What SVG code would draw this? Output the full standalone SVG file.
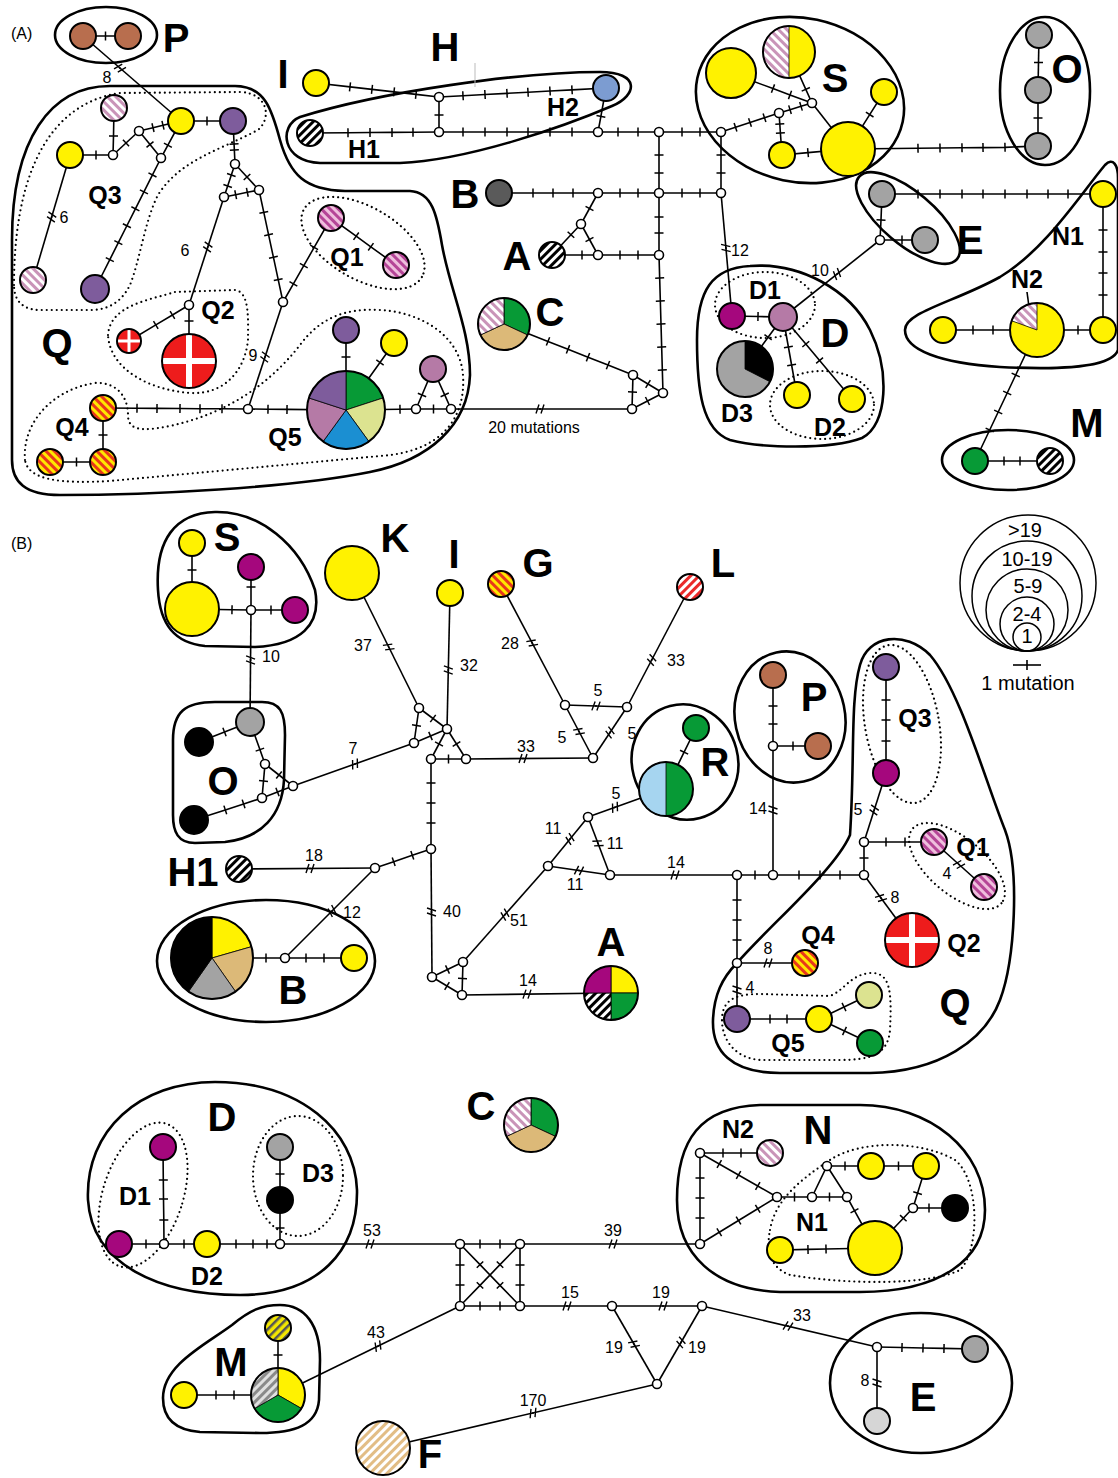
<svg xmlns="http://www.w3.org/2000/svg" width="1118" height="1478" viewBox="0 0 1118 1478">
<defs>
<style>
.e{fill:none;stroke:#000;stroke-width:1.6}
.t{marker-mid:url(#tk)}
.b{fill:none;stroke:#000;stroke-width:1.6;marker-mid:url(#bk)}
.n{stroke:#000;stroke-width:2}
.f{fill:none;stroke:#000;stroke-width:2}
.w{stroke:#000;stroke-width:0.8}
.v{fill:#fff;stroke:#000;stroke-width:1.6}
.o{fill:none;stroke:#000;stroke-width:2.6}
.d{fill:none;stroke:#000;stroke-width:2.2;stroke-dasharray:0 5;stroke-linecap:round}
.L{font-family:"Liberation Sans",Arial,sans-serif;font-weight:bold;font-size:40px;text-anchor:middle}
.M{font-family:"Liberation Sans",Arial,sans-serif;font-weight:bold;font-size:25px;text-anchor:middle}
.s{font-family:"Liberation Sans",Arial,sans-serif;font-size:16px;text-anchor:middle}
.g{font-family:"Liberation Sans",Arial,sans-serif;font-size:20px;text-anchor:middle}
.Y{fill:#fff200}.Br{fill:#b86e4e}.Pu{fill:#7e5c9c}.Mv{fill:#b57aa6}.Mg{fill:#a5077d}.Gy{fill:#a3a3a3}.Gr{fill:#079a36}.Bk{fill:#000}
</style>
<marker id="tk" viewBox="-6 -6 12 12" markerWidth="12" markerHeight="12" markerUnits="userSpaceOnUse" orient="auto"><path d="M0,-4.5V4.5" stroke="#000" stroke-width="1.5"/></marker>
<marker id="bk" viewBox="-7 -7 14 14" markerWidth="14" markerHeight="14" markerUnits="userSpaceOnUse" orient="auto"><path d="M-4,4.5L-1,-4.5M1,4.5L4,-4.5" stroke="#000" stroke-width="1.4" fill="none"/></marker>
<pattern id="pk" patternUnits="userSpaceOnUse" width="6" height="6" patternTransform="rotate(-45)"><rect width="6" height="6" fill="#fff"/><rect width="3" height="6" fill="#c994b8"/></pattern>
<pattern id="q1" patternUnits="userSpaceOnUse" width="6" height="6" patternTransform="rotate(-45)"><rect width="6" height="6" fill="#efbfdd"/><rect width="3" height="6" fill="#b54597"/></pattern>
<pattern id="bw" patternUnits="userSpaceOnUse" width="6" height="6" patternTransform="rotate(45)"><rect width="6" height="6" fill="#fff"/><rect width="3" height="6" fill="#000"/></pattern>
<pattern id="oy" patternUnits="userSpaceOnUse" width="6" height="6" patternTransform="rotate(-45)"><rect width="6" height="6" fill="#ffe800"/><rect width="3" height="6" fill="#e8381a"/></pattern>
<pattern id="rw" patternUnits="userSpaceOnUse" width="6" height="6" patternTransform="rotate(45)"><rect width="6" height="6" fill="#fff"/><rect width="3" height="6" fill="#ea2a2a"/></pattern>
<pattern id="tn" patternUnits="userSpaceOnUse" width="6" height="6" patternTransform="rotate(45)"><rect width="6" height="6" fill="#fff"/><rect width="3" height="6" fill="#e2bd85"/></pattern>
<pattern id="yk" patternUnits="userSpaceOnUse" width="6" height="6" patternTransform="rotate(45)"><rect width="6" height="6" fill="#f3e600"/><rect width="2.5" height="6" fill="#555"/></pattern>
<pattern id="gs" patternUnits="userSpaceOnUse" width="6" height="6" patternTransform="rotate(45)"><rect width="6" height="6" fill="#e0e0e0"/><rect width="3" height="6" fill="#8a8a8a"/></pattern>
</defs>
<rect width="1118" height="1478" fill="#fff"/>

<g id="hulls">
<ellipse class="o" cx="106" cy="35" rx="51" ry="28"/>
<path class="o" d="M12,240 C12,140 50,86 110,86 L235,86 C265,86 272,110 280,140 C290,175 305,190 345,191 L410,191 C432,192 437,215 442,245 C450,290 470,330 470,375 C468,425 430,460 370,472 C290,488 150,495 60,495 C25,495 12,482 12,460 Z"/>
<path class="o" d="M300,117 C380,92 520,72 600,72 C640,72 638,95 612,106 C565,126 470,160 400,163 L320,163 C282,162 278,126 300,117 Z"/>
<ellipse class="o" cx="800" cy="100" rx="105" ry="82" transform="rotate(12 800 100)"/>
<ellipse class="o" cx="1045" cy="91" rx="45" ry="74"/>
<ellipse class="o" cx="908" cy="218" rx="64" ry="26" transform="rotate(40 908 218)"/>
<path class="o" d="M905,330 C905,312 955,302 1000,277 C1045,250 1080,195 1105,165 C1113,157 1118,165 1118,178 L1118,350 C1112,368 1060,370 1000,367 C940,363 905,350 905,330 Z"/>
<path class="o" d="M750,266 C800,262 850,290 870,330 C890,370 888,425 862,438 C830,450 760,448 730,440 C702,430 697,390 697,340 C697,290 712,268 750,266 Z"/>
<ellipse class="o" cx="1008" cy="460" rx="66" ry="30"/>
<path class="d" d="M14,285 C14,190 40,105 120,93 L240,92 C268,93 272,118 258,130 C220,150 180,160 158,195 C145,220 140,260 130,285 C120,305 105,310 90,310 L40,310 C22,310 14,300 14,285 Z"/>
<ellipse class="d" cx="363" cy="243" rx="68" ry="36" transform="rotate(30 363 243)"/>
<path class="d" d="M108,335 C110,305 150,300 175,292 L235,290 C250,292 248,320 248,340 C245,370 225,395 190,393 C150,390 110,370 108,335 Z"/>
<path class="d" d="M25,460 C22,425 50,390 95,383 C118,382 128,398 128,415 C128,430 140,432 170,426 C220,415 265,390 300,345 C320,318 345,308 380,310 C420,312 460,335 463,375 C466,420 440,452 380,456 L110,481 C60,484 28,480 25,460 Z"/>
<ellipse class="d" cx="765" cy="305" rx="50" ry="33"/>
<ellipse class="d" cx="822" cy="405" rx="52" ry="34"/>

<path class="o" d="M158,590 C155,540 175,513 215,512 C260,511 300,545 315,590 C322,625 300,645 255,647 L205,646 C175,643 160,625 158,590 Z"/>
<path class="o" d="M173,740 C173,712 185,702 215,702 L262,702 C280,702 285,712 285,735 L284,780 C282,815 262,838 225,842 L195,843 C178,843 173,832 173,815 Z"/>
<ellipse class="o" cx="685" cy="762" rx="53" ry="58" transform="rotate(-15 685 762)"/>
<ellipse class="o" cx="790" cy="717" rx="55" ry="66" transform="rotate(-12 790 717)"/>
<path class="o" d="M850,835 C855,760 850,700 860,665 C868,635 905,630 930,655 C960,690 985,780 1005,830 C1020,870 1015,960 1000,1000 C985,1040 940,1072 870,1073 L780,1073 C730,1073 712,1050 713,1020 C714,995 722,978 737,963 C770,925 835,870 850,835 Z"/>
<ellipse class="o" cx="266" cy="961" rx="109" ry="61"/>
<path class="o" d="M88,1200 C85,1130 140,1082 215,1082 C300,1082 355,1130 357,1190 C358,1250 320,1295 240,1295 C160,1295 92,1265 88,1200 Z"/>
<path class="o" d="M163,1398 C163,1365 205,1345 232,1325 C250,1310 262,1305 280,1305 C305,1305 320,1325 320,1360 L319,1400 C317,1425 295,1433 260,1433 L200,1432 C175,1430 163,1418 163,1398 Z"/>
<path class="o" d="M677,1200 C677,1140 700,1107 760,1105 L860,1105 C930,1105 985,1150 985,1210 C985,1260 940,1292 860,1292 L780,1292 C715,1290 677,1255 677,1200 Z"/>
<ellipse class="o" cx="921" cy="1383" rx="91" ry="70"/>
<ellipse class="d" cx="902" cy="724" rx="37" ry="80" transform="rotate(-10 902 724)"/>
<ellipse class="d" cx="957" cy="866" rx="58" ry="28" transform="rotate(40 957 866)"/>
<path class="d" d="M722,1020 C722,1000 735,994 760,994 L830,996 C845,990 850,975 870,973 C890,972 892,990 890,1030 C888,1055 870,1060 840,1060 L760,1060 C735,1058 722,1040 722,1020 Z"/>
<ellipse class="d" cx="143" cy="1195" rx="40" ry="75" transform="rotate(18 143 1195)"/>
<ellipse class="d" cx="298" cy="1176" rx="45" ry="60"/>
<path class="d" d="M770,1230 C775,1200 800,1180 830,1160 C860,1140 920,1140 955,1160 C980,1180 980,1250 960,1270 C930,1285 850,1285 790,1275 C770,1268 766,1250 770,1230 Z"/>
<line x1="475" y1="63" x2="475" y2="87" stroke="#bbb" stroke-width="1"/>
</g>

<g id="connectors">
<polyline class="e t" points="83,36 105.5,36 128,36"/>
<line class="e" x1="83" y1="36" x2="181" y2="121"/>
<polyline class="b" points="119.2,67.4 120,68.1 120.8,68.8"/>
<polyline class="e t" points="181,121 207,121 233,121"/>
<polyline class="e t" points="70,155 96,155 113,155"/>
<polyline class="e t" points="114,108 113.5,136 113,155"/>
<polyline class="e t" points="113,155 126,143 139,131"/>
<polyline class="e t" points="139,131 153,127.67 163,125.29 181,121"/>
<polyline class="e t" points="139,131 150,144.5 161,158"/>
<polyline class="e t" points="161,158 167.9,145.2 181,121"/>
<polyline class="e t" points="161,158 152.47,174.94 143.93,191.88 135.4,208.81 126.87,225.74 118.34,242.68 109.8,259.62 95,289"/>
<line class="e" x1="70" y1="155" x2="33" y2="280"/>
<polyline class="b" points="51.93,216.04 51.65,217 51.37,217.96"/>
<polyline class="e t" points="233,121 234.07,144 234.35,150 235,164"/>
<polyline class="e t" points="235,164 231.33,175 227.67,186 224,197"/>
<polyline class="e t" points="235,164 247,177 259,190"/>
<polyline class="e t" points="224,197 235.67,194.67 247.33,192.33 259,190"/>
<line class="e" x1="224" y1="197" x2="189" y2="305"/>
<polyline class="b" points="208.1,246.05 207.8,247 207.5,247.95"/>
<polyline class="e t" points="259,190 263.8,212.4 268.6,234.8 273.4,257.2 278.2,279.6 283,302"/>
<polyline class="e t" points="283,302 293.39,283.81 303.78,265.63 314.18,247.44 331,218"/>
<polyline class="e t" points="331,218 356.16,236.19 370.84,246.81 396,265"/>
<line class="e" x1="283" y1="302" x2="248" y2="409"/>
<polyline class="b" points="265.31,356.05 265,357 264.69,357.95"/>
<polyline class="e t" points="189,305 172.44,314.94 155.82,324.91 129,341"/>
<polyline class="e t" points="189,305 189,321 189,361"/>
<polyline class="e t" points="103,408 103,435 103,462"/>
<polyline class="e t" points="50,462 76.5,462 103,462"/>
<polyline class="e t" points="103,408 137,408.2 157,408.4 180,408.5 200,408.7 222,408.8 248,409"/>
<polyline class="e t" points="248,409 268,409.2 287,409.4 346,410"/>
<polyline class="e t" points="346,330 346,357 346,410"/>
<polyline class="e t" points="394,343 380,362.5 346,410"/>
<polyline class="e t" points="346,410 400,409.2 416,409"/>
<polyline class="e t" points="416,409 433.5,409 451,409"/>
<polyline class="e t" points="433,369 422,395 416,409"/>
<polyline class="e t" points="433,369 444.7,394.9 451,409"/>
<line class="e" x1="451" y1="409" x2="632" y2="409"/>
<polyline class="b" points="539,409 540,409 541,409"/>
<polyline class="e t" points="504,324 548,341.4 568,349.3 588,357.2 608,365.1 633,375"/>
<polyline class="e t" points="633,375 632.5,392 632,409"/>
<polyline class="e t" points="633,375 648,384 663,393"/>
<polyline class="e t" points="663,393 647.5,401 632,409"/>
<polyline class="e t" points="659,132 659,155 659,173 659,193"/>
<polyline class="e t" points="659,193 659,217 659,233 659,255"/>
<polyline class="e t" points="659,255 659.67,278 660.33,301 661,324 661.67,347 662.33,370 663,393"/>
<polyline class="e t" points="721,132 721,155 721,173 721,193"/>
<polyline class="e t" points="598,132 618,132 638,132 659,132"/>
<polyline class="e t" points="659,132 682,132 700,132 721,132"/>
<polyline class="e t" points="499,193 533,193 553,193 573,193 598,193"/>
<polyline class="e t" points="598,193 620,193 638,193 659,193"/>
<polyline class="e t" points="659,193 682,193 700,193 721,193"/>
<polyline class="e t" points="598,193 589.5,208.5 581,224"/>
<polyline class="e t" points="581,224 570.95,234.75 552,255"/>
<polyline class="e t" points="581,224 589.5,239.5 598,255"/>
<polyline class="e t" points="552,255 582,255 598,255"/>
<polyline class="e t" points="598,255 620,255 638,255 659,255"/>
<line class="e" x1="721" y1="193" x2="732" y2="316"/>
<polyline class="b" points="725.81,247 725.9,248 725.99,249"/>
<polyline class="e t" points="316,83 350,86.87 372,89.37 394,91.88 416,94.38 439,97"/>
<polyline class="e t" points="439,97 463,95.71 485,94.53 507,93.34 528,92.21 550,91.02 572,89.83 606,88"/>
<polyline class="e t" points="439,97 439,115 439,132"/>
<polyline class="e t" points="310,133 348,132.7 370,132.5 392,132.4 413,132.2 439,132"/>
<polyline class="e t" points="439,132 463,132 485,132 507,132 528,132 550,132 572,132 598,132"/>
<polyline class="e t" points="606,88 600.9,116.4 598,132"/>
<polyline class="e t" points="721,132 735.5,127.25 750,122.5 764.5,117.75 779,113"/>
<polyline class="e t" points="731,73 773,88.6 790,94.9 812,103"/>
<polyline class="e t" points="789,52 805.8,89.3 812,103"/>
<line class="e" x1="812" y1="103" x2="848" y2="149"/>
<polyline class="e t" points="884,92 869.7,114.6 848,149"/>
<polyline class="e t" points="779,113 790,109.67 801,106.33 812,103"/>
<polyline class="e t" points="779,113 779.8,124 780.4,133 782,155"/>
<polyline class="e t" points="782,155 808,152.6 848,149"/>
<polyline class="e t" points="848,149 918,148.26 940,148.03 962,147.8 983,147.58 1005,147.35 1038,146"/>
<polyline class="e t" points="1039,35 1038.5,62.5 1038,90"/>
<polyline class="e t" points="1038,90 1038,118 1038,146"/>
<polyline class="e t" points="882,194 881,220 880,240"/>
<polyline class="e t" points="880,240 902,240 925,240"/>
<polyline class="e t" points="882,194 918,194 940,194 962,194 983,194 1005,194 1027,194 1048,194 1068,194 1103,194"/>
<line class="e" x1="880" y1="240" x2="783" y2="317"/>
<polyline class="b" points="837.78,273.48 837,274.1 836.22,274.72"/>
<polyline class="e t" points="732,316 758,316.5 783,317"/>
<polyline class="e t" points="783,317 768.1,337.3 745,369"/>
<polyline class="e t" points="783,317 788.4,347 791.6,365 797,395"/>
<polyline class="e t" points="783,317 805.8,344.1 819.6,360.5 852,399"/>
<polyline class="e t" points="943,330 973,330 993,330 1037,330"/>
<polyline class="e t" points="1037,330 1078,330 1103,330"/>
<polyline class="e t" points="1103,194 1103,230 1103,252 1103,273 1103,295 1103,330"/>
<polyline class="e t" points="1037,330 1015.7,375 1007.2,393 998.2,412 989.7,430 975,461"/>
<polyline class="e t" points="975,461 1004,461 1020,461 1050,461"/>
<line class="e" x1="1027" y1="292" x2="1030" y2="314"/>

<polyline class="e t" points="192,543 192,570 192,609"/>
<polyline class="e t" points="192,609 232,609.7 251,610"/>
<polyline class="e t" points="251,610 251,587 251,567"/>
<polyline class="e t" points="251,610 271,610 295,610"/>
<line class="e" x1="251" y1="610" x2="250" y2="722"/>
<polyline class="b" points="250.56,659 250.55,660 250.54,661"/>
<polyline class="e t" points="250,722 224.5,732 199,742"/>
<polyline class="e t" points="250,722 259.9,749.6 265,764"/>
<polyline class="e t" points="265,764 263.5,781 262,798"/>
<polyline class="e t" points="265,764 279,775 293,786"/>
<polyline class="e t" points="262,798 277.5,792 293,786"/>
<polyline class="e t" points="194,820 225.3,809.9 243.6,803.9 262,798"/>
<line class="e" x1="293" y1="786" x2="414" y2="743"/>
<polyline class="b" points="354.06,764.33 355,764 355.94,763.67"/>
<line class="e" x1="352" y1="573" x2="419" y2="708"/>
<polyline class="b" points="388.26,646.1 388.7,647 389.15,647.9"/>
<line class="e" x1="450" y1="593" x2="447" y2="729"/>
<polyline class="b" points="448.32,669 448.3,670 448.28,671"/>
<polyline class="e t" points="419,708 416.5,725.5 414,743"/>
<polyline class="e t" points="419,708 433,718.5 447,729"/>
<polyline class="e t" points="414,743 430.5,736 447,729"/>
<polyline class="e t" points="447,729 439,744 431,759"/>
<polyline class="e t" points="447,729 456.5,744 466,759"/>
<polyline class="e t" points="431,759 448.5,759 466,759"/>
<line class="e" x1="466" y1="759" x2="593" y2="758"/>
<polyline class="b" points="522,758.5 523,758.5 524,758.5"/>
<line class="e" x1="593" y1="758" x2="565" y2="705"/>
<polyline class="b" points="579.47,732.38 579,731.5 578.53,730.62"/>
<line class="e" x1="593" y1="758" x2="627" y2="707"/>
<polyline class="b" points="609.45,733.33 610,732.5 610.55,731.67"/>
<line class="e" x1="565" y1="705" x2="627" y2="707"/>
<polyline class="b" points="595,705.97 596,706 597,706.03"/>
<line class="e" x1="501" y1="584" x2="565" y2="705"/>
<polyline class="b" points="531.73,642.12 532.2,643 532.67,643.88"/>
<line class="e" x1="690" y1="587" x2="627" y2="707"/>
<polyline class="b" points="652.17,659.12 651.7,660 651.23,660.88"/>
<polyline class="e t" points="431,759 431,783 431,803 431,823 431,849"/>
<polyline class="e t" points="431,849 412.3,855.3 393.7,861.7 375,868"/>
<line class="e" x1="375" y1="868" x2="239" y2="869"/>
<polyline class="b" points="311,868.5 310,868.5 309,868.5"/>
<line class="e" x1="375" y1="868" x2="285" y2="958"/>
<polyline class="b" points="332.71,910.29 332,911 331.29,911.71"/>
<line class="e" x1="431" y1="849" x2="432" y2="977"/>
<polyline class="b" points="431.5,911 431.5,912 431.5,913"/>
<polyline class="e t" points="432,977 447.5,969.5 463,962"/>
<polyline class="e t" points="432,977 447,986 462,995"/>
<polyline class="e t" points="463,962 462.5,978.5 462,995"/>
<line class="e" x1="462" y1="995" x2="611" y2="993"/>
<polyline class="b" points="526,994.1 527,994.1 528,994.1"/>
<line class="e" x1="463" y1="962" x2="548" y2="866"/>
<polyline class="b" points="504.34,915.35 505,914.6 505.66,913.85"/>
<line class="e" x1="548" y1="866" x2="588" y2="817"/>
<polyline class="b" points="569.37,839.83 570,839.05 570.63,838.27"/>
<line class="e" x1="588" y1="817" x2="610" y2="875"/>
<polyline class="b" points="597.65,842.47 598,843.4 598.35,844.33"/>
<line class="e" x1="548" y1="866" x2="610" y2="875"/>
<polyline class="b" points="578.01,870.36 579,870.5 579.99,870.64"/>
<line class="e" x1="588" y1="817" x2="666" y2="789"/>
<polyline class="b" points="614.06,807.64 615,807.3 615.94,806.96"/>
<polyline class="e t" points="666,789 684.1,752.2 696,728"/>
<line class="e" x1="610" y1="875" x2="737" y2="875"/>
<polyline class="b" points="674,875 675,875 676,875"/>
<polyline class="e t" points="737,875 755,875 773,875"/>
<polyline class="e t" points="773,875 799,875 820,875 840,875 864,875"/>
<line class="e" x1="773" y1="875" x2="773" y2="746"/>
<polyline class="b" points="773,811 773,810 773,809"/>
<polyline class="e t" points="773,746 773,724 773,706 773,675"/>
<polyline class="e t" points="773,746 793,746 818,746"/>
<polyline class="e t" points="864,875 864,858 864,842"/>
<line class="e" x1="864" y1="842" x2="886" y2="773"/>
<polyline class="b" points="873.9,810.95 874.2,810 874.5,809.05"/>
<polyline class="e t" points="886,667 886,700 886,720 886,741 886,773"/>
<polyline class="e t" points="864,842 886,842 905,842 934,842"/>
<line class="e" x1="934" y1="842" x2="984" y2="887"/>
<polyline class="b" points="958.26,863.83 959,864.5 959.74,865.17"/>
<line class="e" x1="864" y1="875" x2="912" y2="940"/>
<polyline class="b" points="880.41,897.2 881,898 881.59,898.8"/>
<polyline class="e t" points="737,875 737,900 737,920 737,940 737,963"/>
<line class="e" x1="737" y1="963" x2="805" y2="963"/>
<polyline class="b" points="767,963 768,963 769,963"/>
<line class="e" x1="737" y1="963" x2="737" y2="1019"/>
<polyline class="b" points="737,989 737,990 737,991"/>
<polyline class="e t" points="737,1019 770,1019 787,1019 819,1019"/>
<polyline class="e t" points="819,1019 844,1007 869,995"/>
<polyline class="e t" points="819,1019 844.5,1031 870,1043"/>
<polyline class="e t" points="212,958 266,958 285,958"/>
<polyline class="e t" points="285,958 306,958 324,958 354,958"/>
<polyline class="e t" points="460,1244 480,1244 500,1244 520,1244"/>
<polyline class="e t" points="460,1306 480,1306 500,1306 520,1306"/>
<polyline class="e t" points="460,1244 460,1265 460,1285 460,1306"/>
<polyline class="e t" points="520,1244 520,1265 520,1285 520,1306"/>
<polyline class="e t" points="460,1244 480,1264.67 500,1285.33 520,1306"/>
<polyline class="e t" points="520,1244 500,1264.67 480,1285.33 460,1306"/>
<line class="e" x1="280" y1="1244" x2="460" y2="1244"/>
<polyline class="b" points="369,1244 370,1244 371,1244"/>
<line class="e" x1="520" y1="1244" x2="700" y2="1244"/>
<polyline class="b" points="612,1244 613,1244 614,1244"/>
<line class="e" x1="520" y1="1306" x2="612" y2="1306"/>
<polyline class="b" points="566,1306 567,1306 568,1306"/>
<line class="e" x1="612" y1="1306" x2="702" y2="1306"/>
<polyline class="b" points="662,1306 663,1306 664,1306"/>
<line class="e" x1="612" y1="1306" x2="657" y2="1384"/>
<polyline class="b" points="633.5,1343.23 634,1344.1 634.5,1344.97"/>
<line class="e" x1="702" y1="1306" x2="657" y2="1384"/>
<polyline class="b" points="681.5,1341.53 681,1342.4 680.5,1343.27"/>
<line class="e" x1="702" y1="1306" x2="877" y2="1347"/>
<polyline class="b" points="787.03,1325.87 788,1326.1 788.97,1326.33"/>
<line class="e" x1="460" y1="1306" x2="278" y2="1395"/>
<polyline class="b" points="378.9,1345.66 378,1346.1 377.1,1346.54"/>
<line class="e" x1="657" y1="1384" x2="383" y2="1448"/>
<polyline class="b" points="533.97,1412.77 533,1413 532.03,1413.23"/>
<polyline class="e t" points="163,1147 163.3,1180 163.5,1199 163.8,1220 164,1244"/>
<polyline class="e t" points="119,1244 146,1244 164,1244"/>
<polyline class="e t" points="164,1244 184,1244 207,1244"/>
<polyline class="e t" points="207,1244 236,1244 253,1244 267,1244 280,1244"/>
<polyline class="e t" points="280,1147 280,1174 280,1200"/>
<polyline class="e t" points="280,1200 280,1228 280,1244"/>
<polyline class="e t" points="700,1153 723,1153 741,1153 770,1153"/>
<polyline class="e t" points="700,1153 700,1178 700,1198 700,1218 700,1244"/>
<polyline class="e t" points="700,1153 719.25,1164 738.5,1175 757.75,1186 777,1197"/>
<polyline class="e t" points="700,1244 719.25,1232.25 738.5,1220.5 757.75,1208.75 777,1197"/>
<polyline class="e t" points="777,1197 794.5,1197 812,1197"/>
<polyline class="e t" points="812,1197 829.5,1197 847,1197"/>
<polyline class="e" points="812,1197 827,1166 847,1197"/>
<polyline class="e t" points="827,1166 845,1166 871,1166"/>
<polyline class="e t" points="871,1166 898.5,1166 926,1166"/>
<polyline class="e t" points="926,1166 917.6,1193.1 913,1208"/>
<polyline class="e t" points="913,1208 929,1208 955,1208"/>
<polyline class="e t" points="913,1208 903.3,1218.2 875,1248"/>
<polyline class="e t" points="847,1197 854.5,1210.7 875,1248"/>
<polyline class="e t" points="780,1250 808,1249.4 826,1249 875,1248"/>
<polyline class="e t" points="877,1347 902,1347.5 923,1348 944,1348.4 975,1349"/>
<line class="e" x1="877" y1="1347" x2="877" y2="1421"/>
<polyline class="b" points="877,1382 877,1383 877,1384"/>
<polyline class="e t" points="278,1328 278,1355 278,1395"/>
<polyline class="e t" points="184,1395 216,1395 234,1395 278,1395"/>
</g>

<g id="medians">
<circle class="v" cx="113" cy="155" r="4.5"/><circle class="v" cx="139" cy="131" r="4.5"/><circle class="v" cx="161" cy="158" r="4.5"/><circle class="v" cx="235" cy="164" r="4.5"/><circle class="v" cx="224" cy="197" r="4.5"/><circle class="v" cx="259" cy="190" r="4.5"/><circle class="v" cx="189" cy="305" r="4.5"/><circle class="v" cx="283" cy="302" r="4.5"/><circle class="v" cx="248" cy="409" r="4.5"/><circle class="v" cx="416" cy="409" r="4.5"/><circle class="v" cx="451" cy="409" r="4.5"/><circle class="v" cx="632" cy="409" r="4.5"/><circle class="v" cx="633" cy="375" r="4.5"/><circle class="v" cx="663" cy="393" r="4.5"/><circle class="v" cx="439" cy="97" r="4.5"/><circle class="v" cx="439" cy="132" r="4.5"/><circle class="v" cx="598" cy="132" r="4.5"/><circle class="v" cx="659" cy="132" r="4.5"/><circle class="v" cx="721" cy="132" r="4.5"/><circle class="v" cx="598" cy="193" r="4.5"/><circle class="v" cx="659" cy="193" r="4.5"/><circle class="v" cx="721" cy="193" r="4.5"/><circle class="v" cx="581" cy="224" r="4.5"/><circle class="v" cx="598" cy="255" r="4.5"/><circle class="v" cx="659" cy="255" r="4.5"/><circle class="v" cx="812" cy="103" r="4.5"/><circle class="v" cx="779" cy="113" r="4.5"/><circle class="v" cx="880" cy="240" r="4.5"/>
<circle class="v" cx="251" cy="610" r="4.5"/><circle class="v" cx="265" cy="764" r="4.5"/><circle class="v" cx="262" cy="798" r="4.5"/><circle class="v" cx="293" cy="786" r="4.5"/><circle class="v" cx="419" cy="708" r="4.5"/><circle class="v" cx="447" cy="729" r="4.5"/><circle class="v" cx="414" cy="743" r="4.5"/><circle class="v" cx="431" cy="759" r="4.5"/><circle class="v" cx="466" cy="759" r="4.5"/><circle class="v" cx="593" cy="758" r="4.5"/><circle class="v" cx="565" cy="705" r="4.5"/><circle class="v" cx="627" cy="707" r="4.5"/><circle class="v" cx="431" cy="849" r="4.5"/><circle class="v" cx="375" cy="868" r="4.5"/><circle class="v" cx="432" cy="977" r="4.5"/><circle class="v" cx="463" cy="962" r="4.5"/><circle class="v" cx="462" cy="995" r="4.5"/><circle class="v" cx="548" cy="866" r="4.5"/><circle class="v" cx="588" cy="817" r="4.5"/><circle class="v" cx="610" cy="875" r="4.5"/><circle class="v" cx="737" cy="875" r="4.5"/><circle class="v" cx="773" cy="875" r="4.5"/><circle class="v" cx="864" cy="875" r="4.5"/><circle class="v" cx="864" cy="842" r="4.5"/><circle class="v" cx="773" cy="746" r="4.5"/><circle class="v" cx="737" cy="963" r="4.5"/><circle class="v" cx="285" cy="958" r="4.5"/><circle class="v" cx="164" cy="1244" r="4.5"/><circle class="v" cx="280" cy="1244" r="4.5"/><circle class="v" cx="460" cy="1244" r="4.5"/><circle class="v" cx="520" cy="1244" r="4.5"/><circle class="v" cx="460" cy="1306" r="4.5"/><circle class="v" cx="520" cy="1306" r="4.5"/><circle class="v" cx="700" cy="1153" r="4.5"/><circle class="v" cx="700" cy="1244" r="4.5"/><circle class="v" cx="777" cy="1197" r="4.5"/><circle class="v" cx="812" cy="1197" r="4.5"/><circle class="v" cx="847" cy="1197" r="4.5"/><circle class="v" cx="827" cy="1166" r="4.5"/><circle class="v" cx="913" cy="1208" r="4.5"/><circle class="v" cx="612" cy="1306" r="4.5"/><circle class="v" cx="702" cy="1306" r="4.5"/><circle class="v" cx="657" cy="1384" r="4.5"/><circle class="v" cx="877" cy="1347" r="4.5"/>
</g>

<g id="a-P1"><circle class="n Br" cx="83" cy="36" r="13"/></g>
<g id="a-P2"><circle class="n Br" cx="128" cy="36" r="13"/></g>
<g id="a-I"><circle class="n Y" cx="316" cy="83" r="13"/></g>
<g id="a-H1"><circle class="n" cx="310" cy="133" r="13" fill="url(#bw)"/></g>
<g id="a-H2"><circle class="n" cx="606" cy="88" r="13" fill="#7c9cd1"/></g>
<g id="a-B"><circle class="n" cx="499" cy="193" r="13" fill="#5a5a5a"/></g>
<g id="a-A"><circle class="n" cx="552" cy="255" r="13" fill="url(#bw)"/></g>
<g id="a-C"><path class="w" d="M504,324L504,298A26,26 0 0 1 527.56,334.99Z" fill="#079a36"/><path class="w" d="M504,324L527.56,334.99A26,26 0 0 1 480.44,334.99Z" fill="#dcb978"/><path class="w" d="M504,324L480.44,334.99A26,26 0 0 1 504,298Z" fill="url(#pk)"/><circle class="f" cx="504" cy="324" r="26"/></g>
<g id="a-S1"><circle class="n Y" cx="731" cy="73" r="25"/></g>
<g id="a-S2"><circle class="Y" cx="789" cy="52" r="26"/><path d="M789,26A26,26 0 0 0 789,78Z" fill="url(#pk)" class="w"/><circle class="f" cx="789" cy="52" r="26"/></g>
<g id="a-S3"><circle class="n Y" cx="884" cy="92" r="13"/></g>
<g id="a-S4"><circle class="n Y" cx="848" cy="149" r="27"/></g>
<g id="a-S5"><circle class="n Y" cx="782" cy="155" r="13"/></g>
<g id="a-O1"><circle class="n Gy" cx="1039" cy="35" r="13"/></g>
<g id="a-O2"><circle class="n Gy" cx="1038" cy="90" r="13"/></g>
<g id="a-O3"><circle class="n Gy" cx="1038" cy="146" r="13"/></g>
<g id="a-E1"><circle class="n Gy" cx="882" cy="194" r="13"/></g>
<g id="a-E2"><circle class="n Gy" cx="925" cy="240" r="13"/></g>
<g id="a-N1a"><circle class="n Y" cx="1103" cy="194" r="13"/></g>
<g id="a-N1b"><circle class="n Y" cx="1103" cy="330" r="13"/></g>
<g id="a-N2"><circle class="Y" cx="1037" cy="330" r="27"/><path class="w" d="M1037,330L1011.63,320.77A27,27 0 0 1 1037,303Z" fill="url(#pk)"/><circle class="f" cx="1037" cy="330" r="27"/></g>
<g id="a-N3"><circle class="n Y" cx="943" cy="330" r="13"/></g>
<g id="a-M1"><circle class="n Gr" cx="975" cy="461" r="13"/></g>
<g id="a-M2"><circle class="n" cx="1050" cy="461" r="13" fill="url(#bw)"/></g>
<g id="a-D1a"><circle class="n Mg" cx="732" cy="316" r="13"/></g>
<g id="a-D1b"><circle class="n Mv" cx="783" cy="317" r="14"/></g>
<g id="a-D3"><circle class="Gy" cx="745" cy="369" r="28"/><path class="w" d="M745,369L745,341A28,28 0 0 1 769.95,381.71Z" fill="#000"/><circle class="f" cx="745" cy="369" r="28"/></g>
<g id="a-D2a"><circle class="n Y" cx="797" cy="395" r="13"/></g>
<g id="a-D2b"><circle class="n Y" cx="852" cy="399" r="13"/></g>
<g id="a-Q3a"><circle class="n Y" cx="181" cy="121" r="13"/></g>
<g id="a-Q3b"><circle class="n Pu" cx="233" cy="121" r="13"/></g>
<g id="a-Q3c"><circle class="n" cx="114" cy="108" r="13" fill="url(#pk)"/></g>
<g id="a-Q3d"><circle class="n Y" cx="70" cy="155" r="13"/></g>
<g id="a-Q3e"><circle class="n" cx="33" cy="280" r="13" fill="url(#pk)"/></g>
<g id="a-Q3f"><circle class="n Pu" cx="95" cy="289" r="14"/></g>
<g id="a-Q1a"><circle class="n" cx="331" cy="218" r="13" fill="url(#q1)"/></g>
<g id="a-Q1b"><circle class="n" cx="396" cy="265" r="13" fill="url(#q1)"/></g>
<g id="a-Q2a"><circle cx="129" cy="341" r="12" fill="#ee1c1c"/><rect x="117.5" y="339.5" width="23" height="3" fill="#fff"/><rect x="127.5" y="329.5" width="3" height="23" fill="#fff"/><circle class="f" cx="129" cy="341" r="12"/></g>
<g id="a-Q2b"><circle cx="189" cy="361" r="27" fill="#ee1c1c"/><rect x="162.2" y="358" width="53.6" height="6" fill="#fff"/><rect x="186" y="334.2" width="6" height="53.6" fill="#fff"/><circle class="f" cx="189" cy="361" r="27"/></g>
<g id="a-Q4a"><circle class="n" cx="103" cy="408" r="13" fill="url(#oy)"/></g>
<g id="a-Q4b"><circle class="n" cx="103" cy="462" r="13" fill="url(#oy)"/></g>
<g id="a-Q4c"><circle class="n" cx="50" cy="462" r="13" fill="url(#oy)"/></g>
<g id="a-Q5"><path class="w" d="M346,410L346,371A39,39 0 0 1 383.09,397.95Z" fill="#079a36"/><path class="w" d="M346,410L383.09,397.95A39,39 0 0 1 368.92,441.55Z" fill="#dce390"/><path class="w" d="M346,410L368.92,441.55A39,39 0 0 1 323.08,441.55Z" fill="#1b8fd2"/><path class="w" d="M346,410L323.08,441.55A39,39 0 0 1 308.91,397.95Z" fill="#b57aa6"/><path class="w" d="M346,410L308.91,397.95A39,39 0 0 1 346,371Z" fill="#7e5c9c"/><circle class="f" cx="346" cy="410" r="39"/></g>
<g id="a-Q5b"><circle class="n Pu" cx="346" cy="330" r="13"/></g>
<g id="a-Q5c"><circle class="n Y" cx="394" cy="343" r="13"/></g>
<g id="a-Q5d"><circle class="n Mv" cx="433" cy="369" r="13"/></g>

<g id="b-S1"><circle class="n Y" cx="192" cy="543" r="13"/></g>
<g id="b-S2"><circle class="n Y" cx="192" cy="609" r="27"/></g>
<g id="b-S3"><circle class="n Mg" cx="251" cy="567" r="13"/></g>
<g id="b-S4"><circle class="n Mg" cx="295" cy="610" r="13"/></g>
<g id="b-O1"><circle class="n Gy" cx="250" cy="722" r="14"/></g>
<g id="b-O2"><circle class="n Bk" cx="199" cy="742" r="14"/></g>
<g id="b-O3"><circle class="n Bk" cx="194" cy="820" r="14"/></g>
<g id="b-K"><circle class="n Y" cx="352" cy="573" r="27"/></g>
<g id="b-I"><circle class="n Y" cx="450" cy="593" r="13"/></g>
<g id="b-G"><circle class="n" cx="501" cy="584" r="13" fill="url(#oy)"/></g>
<g id="b-L"><circle class="n" cx="690" cy="587" r="13" fill="url(#rw)"/></g>
<g id="b-H1"><circle class="n" cx="239" cy="869" r="13" fill="url(#bw)"/></g>
<g id="b-B1"><path class="w" d="M212,958L212,917A41,41 0 0 1 251.41,946.7Z" fill="#fff200"/><path class="w" d="M212,958L251.41,946.7A41,41 0 0 1 235.52,991.59Z" fill="#dcb978"/><path class="w" d="M212,958L235.52,991.59A41,41 0 0 1 188.48,991.59Z" fill="#a3a3a3"/><path class="w" d="M212,958L188.48,991.59A41,41 0 0 1 212,917Z" fill="#000"/><circle class="f" cx="212" cy="958" r="41"/></g>
<g id="b-B2"><circle class="n Y" cx="354" cy="958" r="13"/></g>
<g id="b-A"><path class="w" d="M611,993L611,966A27,27 0 0 1 638,993Z" fill="#fff200"/><path class="w" d="M611,993L638,993A27,27 0 0 1 611,1020Z" fill="#079a36"/><path class="w" d="M611,993L611,1020A27,27 0 0 1 584,993Z" fill="url(#bw)"/><path class="w" d="M611,993L584,993A27,27 0 0 1 611,966Z" fill="#a5077d"/><circle class="f" cx="611" cy="993" r="27"/></g>
<g id="b-R1"><circle class="Gr" cx="666" cy="789" r="27"/><path class="w" d="M666,762A27,27 0 0 0 666,816Z" fill="#a6d5f0"/><circle class="f" cx="666" cy="789" r="27"/></g>
<g id="b-R2"><circle class="n Gr" cx="696" cy="728" r="13"/></g>
<g id="b-P1"><circle class="n Br" cx="773" cy="675" r="13"/></g>
<g id="b-P2"><circle class="n Br" cx="818" cy="746" r="13"/></g>
<g id="b-Q3a"><circle class="n Pu" cx="886" cy="667" r="13"/></g>
<g id="b-Q3b"><circle class="n Mg" cx="886" cy="773" r="13"/></g>
<g id="b-Q1a"><circle class="n" cx="934" cy="842" r="13" fill="url(#q1)"/></g>
<g id="b-Q1b"><circle class="n" cx="984" cy="887" r="13" fill="url(#q1)"/></g>
<g id="b-Q2"><circle cx="912" cy="940" r="27" fill="#ee1c1c"/><rect x="885.2" y="937" width="53.6" height="6" fill="#fff"/><rect x="909" y="913.2" width="6" height="53.6" fill="#fff"/><circle class="f" cx="912" cy="940" r="27"/></g>
<g id="b-Q4"><circle class="n" cx="805" cy="963" r="13" fill="url(#oy)"/></g>
<g id="b-Q5a"><circle class="n Pu" cx="737" cy="1019" r="13"/></g>
<g id="b-Q5b"><circle class="n Y" cx="819" cy="1019" r="13"/></g>
<g id="b-Q5c"><circle class="n" cx="869" cy="995" r="13" fill="#dce390"/></g>
<g id="b-Q5d"><circle class="n Gr" cx="870" cy="1043" r="13"/></g>
<g id="b-C"><path class="w" d="M531,1125L531,1098A27,27 0 0 1 555.47,1136.41Z" fill="#079a36"/><path class="w" d="M531,1125L555.47,1136.41A27,27 0 0 1 506.53,1136.41Z" fill="#dcb978"/><path class="w" d="M531,1125L506.53,1136.41A27,27 0 0 1 531,1098Z" fill="url(#pk)"/><circle class="f" cx="531" cy="1125" r="27"/></g>
<g id="b-D1a"><circle class="n Mg" cx="163" cy="1147" r="13"/></g>
<g id="b-D1b"><circle class="n Mg" cx="119" cy="1244" r="13"/></g>
<g id="b-D2"><circle class="n Y" cx="207" cy="1244" r="13"/></g>
<g id="b-D3a"><circle class="n Gy" cx="280" cy="1147" r="13"/></g>
<g id="b-D3b"><circle class="n Bk" cx="280" cy="1200" r="13"/></g>
<g id="b-N2"><circle class="n" cx="770" cy="1153" r="13" fill="url(#pk)"/></g>
<g id="b-N1a"><circle class="n Y" cx="871" cy="1166" r="13"/></g>
<g id="b-N1b"><circle class="n Y" cx="926" cy="1166" r="13"/></g>
<g id="b-N1c"><circle class="n Bk" cx="955" cy="1208" r="13"/></g>
<g id="b-N1d"><circle class="n Y" cx="875" cy="1248" r="27"/></g>
<g id="b-N1e"><circle class="n Y" cx="780" cy="1250" r="13"/></g>
<g id="b-E1"><circle class="n Gy" cx="975" cy="1349" r="13"/></g>
<g id="b-E2"><circle class="n" cx="877" cy="1421" r="13" fill="#d6d6d6"/></g>
<g id="b-M1"><circle class="n" cx="278" cy="1328" r="13" fill="url(#yk)"/></g>
<g id="b-M2"><path class="w" d="M278,1395L278,1368A27,27 0 0 1 301.38,1408.5Z" fill="#fff200"/><path class="w" d="M278,1395L301.38,1408.5A27,27 0 0 1 254.62,1408.5Z" fill="#079a36"/><path class="w" d="M278,1395L254.62,1408.5A27,27 0 0 1 278,1368Z" fill="url(#gs)"/><circle class="f" cx="278" cy="1395" r="27"/></g>
<g id="b-M3"><circle class="n Y" cx="184" cy="1395" r="13"/></g>
<g id="b-F"><circle class="n" cx="383" cy="1448" r="27" fill="url(#tn)"/></g>

<g id="labels">
<text x="11" y="39" font-family="Liberation Sans, Arial, sans-serif" font-size="16">(A)</text>
<text x="11" y="549" font-family="Liberation Sans, Arial, sans-serif" font-size="16">(B)</text>
<text class="L" x="176" y="52">P</text>
<text class="L" x="283" y="88">I</text>
<text class="L" x="445" y="61">H</text>
<text class="L" x="835" y="92">S</text>
<text class="L" x="1067" y="83">O</text>
<text class="L" x="465" y="208">B</text>
<text class="L" x="517" y="270">A</text>
<text class="L" x="550" y="326">C</text>
<text class="L" x="970" y="254">E</text>
<text class="L" x="835" y="347">D</text>
<text class="L" x="1087" y="437">M</text>
<text class="L" x="57" y="357">Q</text>
<text class="M" x="105" y="204">Q3</text>
<text class="M" x="218" y="319">Q2</text>
<text class="M" x="347" y="266">Q1</text>
<text class="M" x="72" y="436">Q4</text>
<text class="M" x="285" y="446">Q5</text>
<text class="M" x="364" y="158">H1</text>
<text class="M" x="563" y="116">H2</text>
<text class="M" x="765" y="299">D1</text>
<text class="M" x="737" y="422">D3</text>
<text class="M" x="830" y="436">D2</text>
<text class="M" x="1068" y="245">N1</text>
<text class="M" x="1027" y="288">N2</text>
<text class="s" x="107" y="83">8</text>
<text class="s" x="64" y="223">6</text>
<text class="s" x="185" y="256">6</text>
<text class="s" x="253" y="361">9</text>
<text class="s" x="740" y="256">12</text>
<text class="s" x="820" y="276">10</text>
<text class="s" x="534" y="433">20 mutations</text>

<text class="L" x="227" y="551">S</text>
<text class="L" x="395" y="552">K</text>
<text class="L" x="454" y="568">I</text>
<text class="L" x="538" y="577">G</text>
<text class="L" x="723" y="577">L</text>
<text class="L" x="715" y="776">R</text>
<text class="L" x="814" y="711">P</text>
<text class="L" x="223" y="795">O</text>
<text class="L" x="193" y="886">H1</text>
<text class="L" x="293" y="1004">B</text>
<text class="L" x="611" y="956">A</text>
<text class="L" x="955" y="1017">Q</text>
<text class="L" x="481" y="1120">C</text>
<text class="L" x="222" y="1131">D</text>
<text class="L" x="818" y="1144">N</text>
<text class="L" x="231" y="1376">M</text>
<text class="L" x="923" y="1411">E</text>
<text class="L" x="430" y="1468">F</text>
<text class="M" x="915" y="727">Q3</text>
<text class="M" x="973" y="856">Q1</text>
<text class="M" x="818" y="944">Q4</text>
<text class="M" x="964" y="952">Q2</text>
<text class="M" x="788" y="1052">Q5</text>
<text class="M" x="135" y="1205">D1</text>
<text class="M" x="318" y="1182">D3</text>
<text class="M" x="207" y="1285">D2</text>
<text class="M" x="738" y="1138">N2</text>
<text class="M" x="812" y="1231">N1</text>
<text class="s" x="271" y="662">10</text>
<text class="s" x="363" y="651">37</text>
<text class="s" x="469" y="671">32</text>
<text class="s" x="353" y="754">7</text>
<text class="s" x="510" y="649">28</text>
<text class="s" x="676" y="666">33</text>
<text class="s" x="598" y="696">5</text>
<text class="s" x="562" y="743">5</text>
<text class="s" x="632" y="739">5</text>
<text class="s" x="526" y="752">33</text>
<text class="s" x="616" y="799">5</text>
<text class="s" x="758" y="814">14</text>
<text class="s" x="858" y="815">5</text>
<text class="s" x="314" y="861">18</text>
<text class="s" x="352" y="918">12</text>
<text class="s" x="452" y="917">40</text>
<text class="s" x="519" y="926">51</text>
<text class="s" x="528" y="986">14</text>
<text class="s" x="553" y="834">11</text>
<text class="s" x="615" y="849">11</text>
<text class="s" x="575" y="890">11</text>
<text class="s" x="676" y="868">14</text>
<text class="s" x="947" y="879">4</text>
<text class="s" x="895" y="903">8</text>
<text class="s" x="768" y="954">8</text>
<text class="s" x="750" y="993">4</text>
<text class="s" x="372" y="1236">53</text>
<text class="s" x="613" y="1236">39</text>
<text class="s" x="570" y="1298">15</text>
<text class="s" x="661" y="1298">19</text>
<text class="s" x="614" y="1353">19</text>
<text class="s" x="697" y="1353">19</text>
<text class="s" x="802" y="1321">33</text>
<text class="s" x="376" y="1338">43</text>
<text class="s" x="533" y="1406">170</text>
<text class="s" x="865" y="1386">8</text>
</g>

<g id="legend">
<circle cx="1028" cy="583" r="68" fill="none" stroke="#000" stroke-width="1.5"/>
<circle cx="1027" cy="596" r="55" fill="none" stroke="#000" stroke-width="1.5"/>
<circle cx="1027" cy="610" r="41" fill="none" stroke="#000" stroke-width="1.5"/>
<circle cx="1027" cy="624" r="27" fill="none" stroke="#000" stroke-width="1.5"/>
<circle cx="1027" cy="637" r="14" fill="none" stroke="#000" stroke-width="1.5"/>
<text class="g" x="1025" y="537">&gt;19</text>
<text class="g" x="1027" y="566">10-19</text>
<text class="g" x="1028" y="593">5-9</text>
<text class="g" x="1027" y="621">2-4</text>
<text class="g" x="1027" y="643">1</text>
<line x1="1013" y1="665" x2="1041" y2="665" stroke="#000" stroke-width="1.6"/>
<line x1="1027" y1="660" x2="1027" y2="670" stroke="#000" stroke-width="1.6"/>
<text class="g" x="1028" y="690">1 mutation</text>
</g>
</svg>
